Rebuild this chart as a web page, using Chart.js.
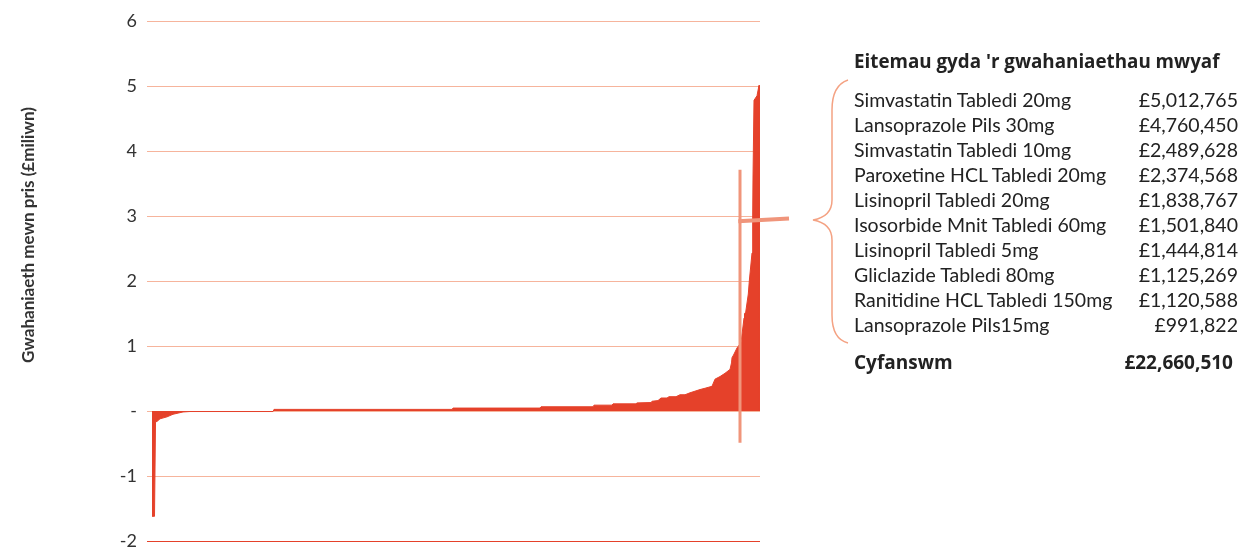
<!DOCTYPE html>
<html>
<head>
<meta charset="utf-8">
<script src="https://cdn.jsdelivr.net/npm/chart.js@4"></script>
<style>
  html, body { margin: 0; padding: 0; background: #fff; }
  #wrap { position: relative; width: 1241px; height: 551px; font-family: Lato, "Open Sans", sans-serif; color: #222; }
  #wrap canvas { position: absolute; left: 0; top: 0; }
  .ytitle { position: absolute; left: 27px; top: 235px; transform: translate(-50%, -50%) rotate(-90deg); white-space: nowrap; font-weight: bold; font-size: 17px; color: #333; }
  .panel { position: absolute; left: 854px; top: 48px; width: 384px; }
  .ptitle { font-family: "Open Sans", sans-serif; font-weight: bold; font-size: 18.8px; height: 26px; line-height: 26px; margin-bottom: 13px; color: #222; }
  .row { display: flex; justify-content: space-between; font-size: 19.5px; height: 25px; line-height: 25px; color: #222; }
  .total { display: flex; justify-content: space-between; font-family: "Open Sans", sans-serif; font-weight: bold; font-size: 19px; height: 25px; line-height: 25px; margin-top: 13px; padding-right: 5px; color: #222; }
  svg { position: absolute; left: 0; top: 0; }
</style>
</head>
<body>
<div id="wrap">
  <canvas id="c" width="1241" height="551"></canvas>
  <svg width="1241" height="551"><path d="M848,80 C836,84 832,95 832,110 L832,200 C832,212 824,218 813,220 C824,222 832,228 832,240 L832,315 C832,330 836,340 848,343" fill="none" stroke="#f4a283" stroke-width="1.5"/></svg>
  <div class="ytitle" id="ytitle"></div>
  <div class="panel" id="panel"></div>
</div>
<script>
// ---- data ----
const yAxisTitle = "Gwahaniaeth mewn pris (£miliwn)";
const yTicks = [-2, -1, 0, 1, 2, 3, 4, 5, 6];
// item rank position (sorted items) and price difference (£ million)
const itemRank = [0, 1.25, 1.75, 2.5, 4, 7.5, 10.5, 15.5, 19, 60.5, 61, 150, 150.5, 194, 194.5, 220.5, 221, 230, 230.5, 242, 242.5, 249.5, 250, 253, 254.5, 257.5, 258.5, 262, 264, 266.5, 269, 271, 274, 276.5, 280, 281.5, 284, 286.5, 289, 289.75, 290, 290.75, 292.5, 294.5, 296, 296.25, 296.85, 298.15, 298.65, 300, 300.35, 300.5, 301, 302.5, 303.5, 303.75];
const priceDiff = [-1.62, -1.62, -0.17, -0.16, -0.12, -0.09, -0.05, -0.015, -0.008, -0.008, 0.025, 0.025, 0.045, 0.045, 0.065, 0.065, 0.09, 0.09, 0.11, 0.11, 0.125, 0.13, 0.15, 0.16, 0.2, 0.2, 0.22, 0.22, 0.25, 0.25, 0.28, 0.3, 0.33, 0.35, 0.38, 0.49, 0.53, 0.58, 0.64, 0.74, 0.82, 0.86, 0.97, 1.05, 1.43, 1.50, 1.52, 1.80, 2.0, 2.43, 3.0, 3.6, 4.78, 4.85, 5.01, 0];
const panelTitle = "Eitemau gyda 'r gwahaniaethau mwyaf";
const topItems = ["Simvastatin Tabledi 20mg", "Lansoprazole Pils 30mg", "Simvastatin Tabledi 10mg", "Paroxetine HCL Tabledi 20mg", "Lisinopril Tabledi 20mg", "Isosorbide Mnit Tabledi 60mg", "Lisinopril Tabledi 5mg", "Gliclazide Tabledi 80mg", "Ranitidine HCL Tabledi 150mg", "Lansoprazole Pils15mg"];
const topValues = ["£5,012,765", "£4,760,450", "£2,489,628", "£2,374,568", "£1,838,767", "£1,501,840", "£1,444,814", "£1,125,269", "£1,120,588", "£991,822"];
const totalLabel = "Cyfanswm";
const totalValue = "£22,660,510";
// annotation marker (vertical and horizontal pointer lines), in data units
const markerV = { x: [294, 294], y: [3.71, -0.49] };
const markerH = { x: [293.15, 318.5], y: [2.92, 2.96] };

// ---- text panel ----
document.getElementById('ytitle').textContent = yAxisTitle;
const panel = document.getElementById('panel');
const t = document.createElement('div'); t.className = 'ptitle'; t.textContent = panelTitle; panel.appendChild(t);
topItems.forEach((name, i) => {
  const r = document.createElement('div'); r.className = 'row';
  const a = document.createElement('span'); a.textContent = name;
  const b = document.createElement('span'); b.textContent = topValues[i];
  r.appendChild(a); r.appendChild(b); panel.appendChild(r);
});
const tot = document.createElement('div'); tot.className = 'total';
const ta = document.createElement('span'); ta.textContent = totalLabel;
const tb = document.createElement('span'); tb.textContent = totalValue;
tot.appendChild(ta); tot.appendChild(tb); panel.appendChild(tot);

// ---- chart ----
const markerPlugin = {
  id: 'marker',
  afterDatasetsDraw(chart) {
    const { ctx, scales: { x, y } } = chart;
    ctx.save();
    ctx.strokeStyle = '#f0957b';
    ctx.lineCap = 'butt';
    ctx.lineWidth = 3;
    ctx.beginPath();
    ctx.moveTo(x.getPixelForValue(markerV.x[0]), y.getPixelForValue(markerV.y[0]));
    ctx.lineTo(x.getPixelForValue(markerV.x[1]), y.getPixelForValue(markerV.y[1]));
    ctx.stroke();
    ctx.lineWidth = 4;
    ctx.beginPath();
    ctx.moveTo(x.getPixelForValue(markerH.x[0]), y.getPixelForValue(markerH.y[0]));
    ctx.lineTo(x.getPixelForValue(markerH.x[1]), y.getPixelForValue(markerH.y[1]));
    ctx.stroke();
    ctx.restore();
  }
};

new Chart(document.getElementById('c'), {
  type: 'line',
  data: {
    datasets: [{
      data: itemRank.map((r, i) => ({ x: r, y: priceDiff[i] })),
      borderColor: '#e5412a',
      backgroundColor: '#e5412a',
      borderWidth: 1,
      fill: 'origin',
      pointRadius: 0,
      tension: 0
    }]
  },
  options: {
    responsive: false,
    animation: false,
    layout: { padding: { top: 21, bottom: 10, right: 481, left: 0 } },
    plugins: { legend: { display: false }, tooltip: { enabled: false } },
    scales: {
      x: { type: 'linear', display: false, min: 0, max: 304 },
      y: {
        min: -2, max: 6,
        afterBuildTicks: (s) => { s.ticks = yTicks.map(v => ({ value: v })); },
        afterFit: (s) => { s.width = 152; s.paddingTop = 0; s.paddingBottom = 0; },
        border: { display: false },
        grid: {
          color: (c) => c.tick && c.tick.value === -2 ? '#e5412a' : '#f6b49c',
          lineWidth: 1,
          tickLength: 5
        },
        ticks: {
          padding: 10,
          color: '#333',
          font: { family: 'Lato, "Open Sans", sans-serif', size: 18 },
          callback: (v) => v === 0 ? '-' : String(v)
        }
      }
    }
  },
  plugins: [markerPlugin]
});
</script>
</body>
</html>
